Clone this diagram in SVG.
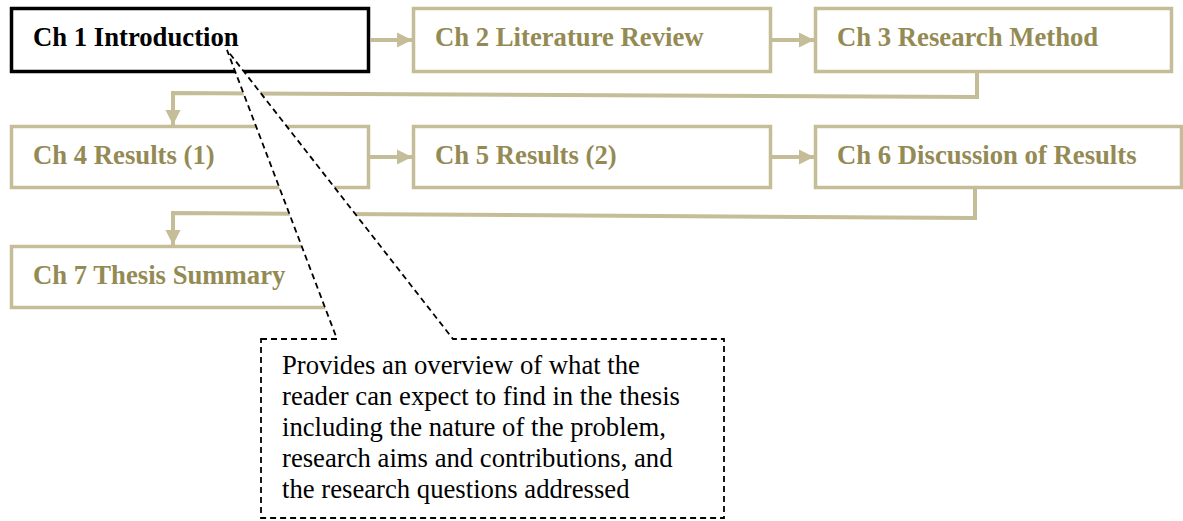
<svg xmlns="http://www.w3.org/2000/svg" width="1183" height="521" viewBox="0 0 1183 521">
<style>
.box{fill:#fff;stroke:#C4BD97;stroke-width:3.5}
.main{fill:#fff;stroke:#000;stroke-width:3.5}
.lbl{font-family:"Liberation Serif","Times New Roman",serif;font-size:26.7px;font-weight:bold;fill:#948A54}
.lblm{font-family:"Liberation Serif","Times New Roman",serif;font-size:26.7px;font-weight:bold;fill:#000}
.con{fill:none;stroke:#C4BD97;stroke-width:4}
.note{fill:#fff;stroke:#000;stroke-width:1.8;stroke-dasharray:6 4}
.nt{font-family:"Liberation Serif","Times New Roman",serif;font-size:26.7px;fill:#000}
</style>
<defs>
<marker id="ah" markerUnits="userSpaceOnUse" markerWidth="16" markerHeight="16" refX="15" refY="8" orient="auto">
<path d="M0,0.5 L15,8 L0,15.5 Z" fill="#C4BD97"/>
</marker>
</defs>
<g id="ch1"><rect class="main" x="11.5" y="8.5" width="357" height="63"/><text class="lblm" x="33" y="45.5">Ch 1 Introduction</text></g>
<g id="ch2"><rect class="box" x="413.5" y="8.5" width="357" height="63"/><text class="lbl" x="435" y="45.5">Ch 2 Literature Review</text></g>
<g id="ch3"><rect class="box" x="815.5" y="8.5" width="356" height="63"/><text class="lbl" x="837" y="45.5">Ch 3 Research Method</text></g>
<g id="ch4"><rect class="box" x="11.5" y="126.5" width="357" height="61"/><text class="lbl" x="33" y="163.5">Ch 4 Results (1)</text></g>
<g id="ch5"><rect class="box" x="413.5" y="126.5" width="357" height="61"/><text class="lbl" x="435" y="163.5">Ch 5 Results (2)</text></g>
<g id="ch6"><rect class="box" x="815.5" y="126.5" width="366" height="61"/><text class="lbl" x="837" y="163.5">Ch 6 Discussion of Results</text></g>
<g id="ch7"><rect class="box" x="11.5" y="246.5" width="313" height="61"/><text class="lbl" x="33" y="283.5">Ch 7 Thesis Summary</text></g>
<g id="connectors">
<path class="con" d="M370,40 L412,40" marker-end="url(#ah)"/>
<path class="con" d="M772,40 L814,40" marker-end="url(#ah)"/>
<path class="con" d="M977,73 L977,97 L173,93 L173,125" marker-end="url(#ah)"/>
<path class="con" d="M370,157 L412,157" marker-end="url(#ah)"/>
<path class="con" d="M772,157 L814,157" marker-end="url(#ah)"/>
<path class="con" d="M975,189 L975,218 L173,213 L173,245" marker-end="url(#ah)"/>
</g>
<g id="callout">
<path class="note" d="M261,339 L337,339 L227,50 L453,339 L724,339 L724,518 L261,518 Z"/>
<text class="nt" x="282" y="374">Provides an overview of what the</text>
<text class="nt" x="282" y="405">reader can expect to find in the thesis</text>
<text class="nt" x="282" y="436">including the nature of the problem,</text>
<text class="nt" x="282" y="467">research aims and contributions, and</text>
<text class="nt" x="282" y="498">the research questions addressed</text>
</g>
</svg>
